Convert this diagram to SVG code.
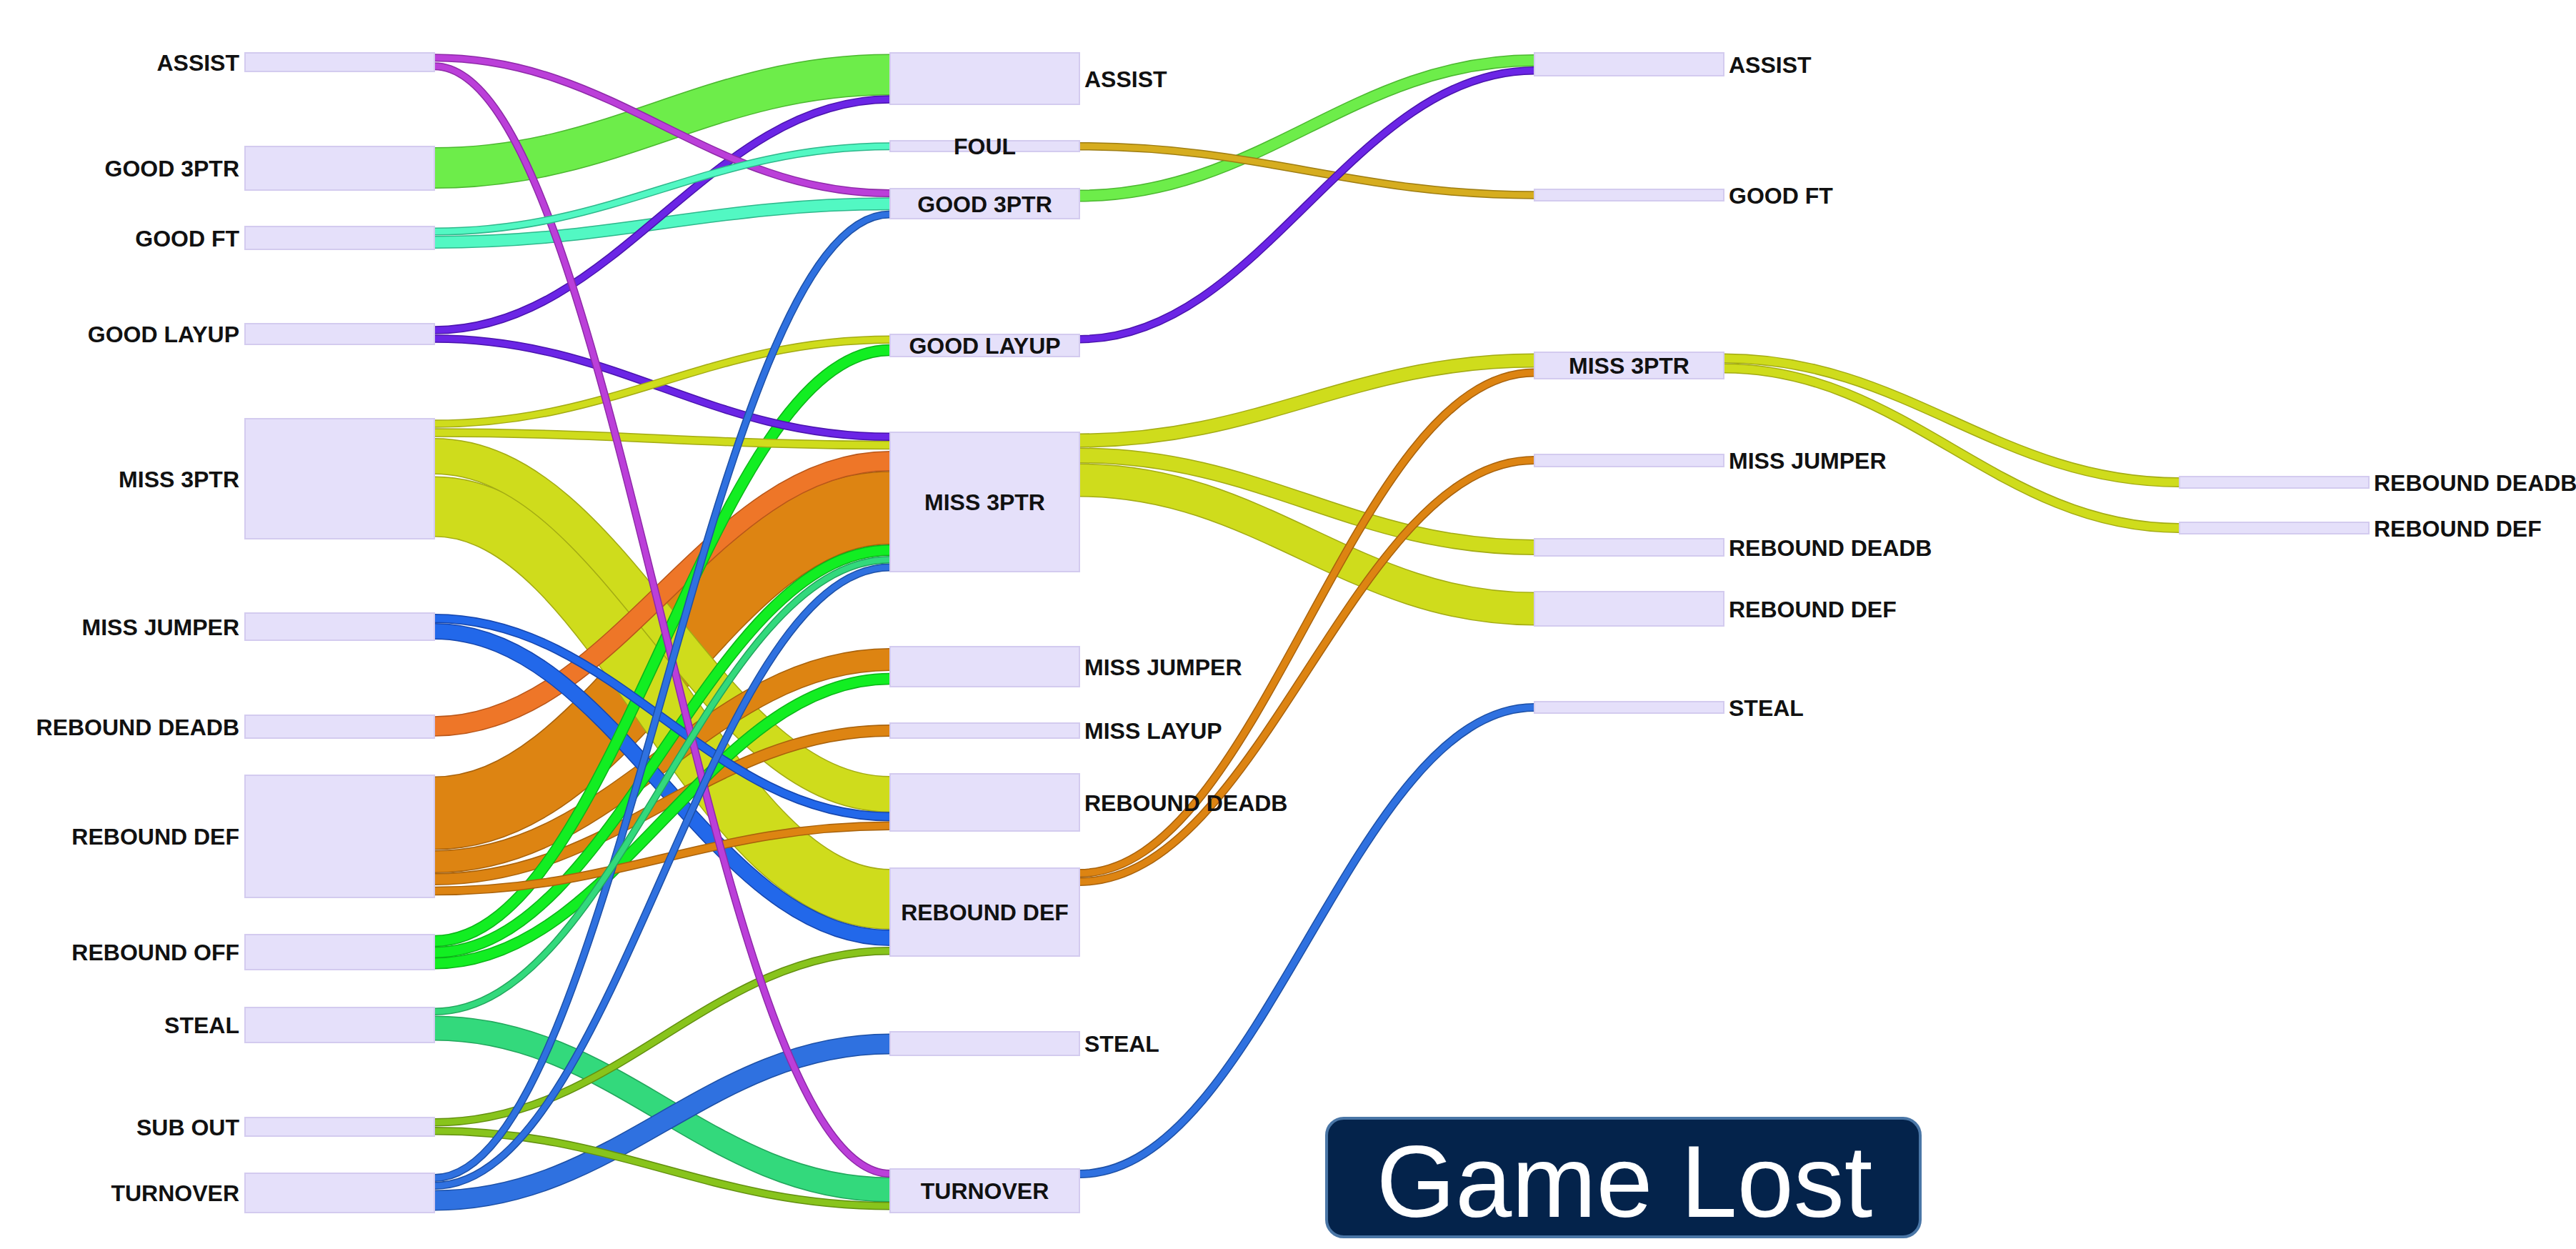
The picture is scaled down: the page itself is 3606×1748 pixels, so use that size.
<svg xmlns="http://www.w3.org/2000/svg" xmlns:xlink="http://www.w3.org/1999/xlink" width="3606" height="1748" viewBox="0 0 3606 1748">
  <style>
    .node rect { fill: #e5e0fa; stroke: #d3cbef; stroke-width: 2; }
    .node text { font-family: "Liberation Sans", Arial, sans-serif; font-weight: bold; font-size: 32px; fill: #111; }
    .l { text-anchor: end; }
    .c { text-anchor: middle; }
    .edge { fill: none; }
    .core { fill: none; }
    .magenta .edge { stroke: #8e2aa8; } .magenta .core { stroke: #bb3fd9; }
    .green3 .edge { stroke: #4cb830; } .green3 .core { stroke: #6ded4a; }
    .aqua .edge { stroke: #2fb88c; } .aqua .core { stroke: #52f8c3; }
    .violet .edge { stroke: #4a14ad; } .violet .core { stroke: #6b25e6; }
    .yellow .edge { stroke: #a3ab14; } .yellow .core { stroke: #cfdc1c; }
    .bluemj .edge { stroke: #1646ad; } .bluemj .core { stroke: #2268ea; }
    .orangerd .edge { stroke: #b8561a; } .orangerd .core { stroke: #ee7628; }
    .orangedef .edge { stroke: #a8620c; } .orangedef .core { stroke: #dd8412; }
    .greenro .edge { stroke: #0cb418; } .greenro .core { stroke: #12ee22; }
    .emerald .edge { stroke: #22a65c; } .emerald .core { stroke: #33d97c; }
    .olive .edge { stroke: #628f10; } .olive .core { stroke: #88c41c; }
    .blueto .edge { stroke: #1d50a6; } .blueto .core { stroke: #2f71e0; }
    .gold .edge { stroke: #9e7d12; } .gold .core { stroke: #d6ad1f; }
    .badge rect { fill: #04234b; stroke: #4a76a6; stroke-width: 4; }
    .badge text { font-family: "Liberation Sans", Arial, sans-serif; font-size: 142px; fill: #ffffff; text-anchor: middle; }
  </style>
  <defs>
    <!-- column 1 to column 2 flows -->
    <path id="p1" d="M608,80.8 C863,80.8 991,270.5 1246,270.5"/>
    <path id="p2" d="M608,92.8 C863,92.8 991,1642.5 1246,1642.5"/>
    <path id="p3" d="M608,235 C863,235 991,104.5 1246,104.5"/>
    <path id="p4" d="M608,324 C863,324 991,204.7 1246,204.7"/>
    <path id="p5" d="M608,339 C863,339 991,285.3 1246,285.3"/>
    <path id="p6" d="M608,462 C863,462 991,139 1246,139"/>
    <path id="p7" d="M608,474 C863,474 991,611.3 1246,611.3"/>
    <path id="p8" d="M608,593 C863,593 991,475.3 1246,475.3"/>
    <path id="p9" d="M608,605.5 C863,605.5 991,623 1246,623"/>
    <path id="p10" d="M608,638.5 C863,638.5 991,1111.5 1246,1111.5"/>
    <path id="p11" d="M608,709 C863,709 991,1258.5 1246,1258.5"/>
    <path id="p12" d="M608,865.5 C863,865.5 991,1143 1246,1143"/>
    <path id="p13" d="M608,883.5 C863,883.5 991,1312.5 1246,1312.5"/>
    <path id="p14" d="M608,1016.5 C863,1016.5 991,645.3 1246,645.3"/>
    <path id="p15" d="M608,1138 C863,1138 991,710.7 1246,710.7"/>
    <path id="p16" d="M608,1206 C863,1206 991,923 1246,923"/>
    <path id="p17" d="M608,1230.5 C863,1230.5 991,1022.5 1246,1022.5"/>
    <path id="p18" d="M608,1247 C863,1247 991,1155.7 1246,1155.7"/>
    <path id="p19" d="M608,1317 C863,1317 991,490 1246,490"/>
    <path id="p20" d="M608,1333 C863,1333 991,770 1246,770"/>
    <path id="p21" d="M608,1348.3 C863,1348.3 991,950 1246,950"/>
    <path id="p22" d="M608,1415.7 C863,1415.7 991,783.3 1246,783.3"/>
    <path id="p23" d="M608,1439 C863,1439 991,1665 1246,1665"/>
    <path id="p24" d="M608,1570.8 C863,1570.8 991,1330.8 1246,1330.8"/>
    <path id="p25" d="M608,1582.8 C863,1582.8 991,1687.8 1246,1687.8"/>
    <path id="p26" d="M608,1648.5 C863,1648.5 991,300 1246,300"/>
    <path id="p27" d="M608,1659.5 C863,1659.5 991,794 1246,794"/>
    <path id="p28" d="M608,1680 C863,1680 991,1461 1246,1461"/>
    <!-- column 2 to column 3 flows -->
    <path id="q29" d="M1511,204.7 C1766,204.7 1893,273 2148,273"/>
    <path id="q30" d="M1511,274 C1766,274 1893,84.5 2148,84.5"/>
    <path id="q31" d="M1511,474.7 C1766,474.7 1893,98.7 2148,98.7"/>
    <path id="q32" d="M1511,616.5 C1766,616.5 1893,504.5 2148,504.5"/>
    <path id="q33" d="M1511,637.5 C1766,637.5 1893,766 2148,766"/>
    <path id="q34" d="M1511,672 C1766,672 1893,852 2148,852"/>
    <path id="q35" d="M1511,1222 C1766,1222 1893,521.5 2148,521.5"/>
    <path id="q36" d="M1511,1234 C1766,1234 1893,644 2148,644"/>
    <path id="q37" d="M1511,1643 C1766,1643 1893,990 2148,990"/>
    <!-- column 3 to column 4 flows -->
    <path id="r38" d="M2413,501.5 C2668,501.5 2796,675 3051,675"/>
    <path id="r39" d="M2413,515.5 C2668,515.5 2796,739 3051,739"/>
  </defs>

  <rect width="3606" height="1748" fill="#ffffff"/>

  <!-- flows, widest drawn first -->
  <g id="connectors">
    <g id="link-rebdef-miss3ptr" class="orangedef"><use href="#p15" class="edge" stroke-width="103"/><use href="#p15" class="core" stroke-width="100"/></g>
    <g id="link-miss3ptr-rebdef" class="yellow"><use href="#p11" class="edge" stroke-width="85"/><use href="#p11" class="core" stroke-width="82"/></g>
    <g id="link-good3ptr-assist" class="green3"><use href="#p3" class="edge" stroke-width="58"/><use href="#p3" class="core" stroke-width="55"/></g>
    <g id="link-miss3ptr-rebdeadb" class="yellow"><use href="#p10" class="edge" stroke-width="51"/><use href="#p10" class="core" stroke-width="48"/></g>
    <g id="link-m-miss3ptr-rebdef" class="yellow"><use href="#q34" class="edge" stroke-width="47"/><use href="#q34" class="core" stroke-width="44"/></g>
    <g id="link-steal-turnover" class="emerald"><use href="#p23" class="edge" stroke-width="35"/><use href="#p23" class="core" stroke-width="32"/></g>
    <g id="link-rebdef-missjumper" class="orangedef"><use href="#p16" class="edge" stroke-width="32"/><use href="#p16" class="core" stroke-width="29"/></g>
    <g id="link-turnover-steal" class="blueto"><use href="#p28" class="edge" stroke-width="29"/><use href="#p28" class="core" stroke-width="26"/></g>
    <g id="link-rebdeadb-miss3ptr" class="orangerd"><use href="#p14" class="edge" stroke-width="28.5"/><use href="#p14" class="core" stroke-width="25.5"/></g>
    <g id="link-missjumper-rebdef" class="bluemj"><use href="#p13" class="edge" stroke-width="23"/><use href="#p13" class="core" stroke-width="20"/></g>
    <g id="link-m-miss3ptr-rebdeadb" class="yellow"><use href="#q33" class="edge" stroke-width="22"/><use href="#q33" class="core" stroke-width="19"/></g>
    <g id="link-m-miss3ptr-miss3ptr" class="yellow"><use href="#q32" class="edge" stroke-width="20"/><use href="#q32" class="core" stroke-width="17"/></g>
    <g id="link-goodft-good3ptr" class="aqua"><use href="#p5" class="edge" stroke-width="18"/><use href="#p5" class="core" stroke-width="15"/></g>
    <g id="link-rebdef-misslayup" class="orangedef"><use href="#p17" class="edge" stroke-width="17"/><use href="#p17" class="core" stroke-width="14"/></g>
    <g id="link-m-good3ptr-assist" class="green3"><use href="#q30" class="edge" stroke-width="17"/><use href="#q30" class="core" stroke-width="14"/></g>
    <g id="link-reboff-goodlayup" class="greenro"><use href="#p19" class="edge" stroke-width="16.5"/><use href="#p19" class="core" stroke-width="13.5"/></g>
    <g id="link-reboff-missjumper" class="greenro"><use href="#p21" class="edge" stroke-width="16.5"/><use href="#p21" class="core" stroke-width="13.5"/></g>
    <g id="link-reboff-miss3ptr" class="greenro"><use href="#p20" class="edge" stroke-width="16"/><use href="#p20" class="core" stroke-width="13"/></g>
    <g id="link-3-miss3ptr-rebdeadb" class="yellow"><use href="#r38" class="edge" stroke-width="14"/><use href="#r38" class="core" stroke-width="11"/></g>
    <g id="link-3-miss3ptr-rebdef" class="yellow"><use href="#r39" class="edge" stroke-width="14"/><use href="#r39" class="core" stroke-width="11"/></g>
    <g id="link-missjumper-rebdeadb" class="bluemj"><use href="#p12" class="edge" stroke-width="13"/><use href="#p12" class="core" stroke-width="10"/></g>
    <g id="link-miss3ptr-miss3ptr" class="yellow"><use href="#p9" class="edge" stroke-width="12.5"/><use href="#p9" class="core" stroke-width="9.5"/></g>
    <g id="link-rebdef-rebdeadb" class="orangedef"><use href="#p18" class="edge" stroke-width="12.5"/><use href="#p18" class="core" stroke-width="9.5"/></g>
    <g id="link-m-rebdef-miss3ptr" class="orangedef"><use href="#q35" class="edge" stroke-width="12"/><use href="#q35" class="core" stroke-width="9"/></g>
    <g id="link-m-rebdef-missjumper" class="orangedef"><use href="#q36" class="edge" stroke-width="12"/><use href="#q36" class="core" stroke-width="9"/></g>
    <g id="link-m-turnover-steal" class="blueto"><use href="#q37" class="edge" stroke-width="12"/><use href="#q37" class="core" stroke-width="9"/></g>
    <g id="link-goodlayup-assist" class="violet"><use href="#p6" class="edge" stroke-width="11.5"/><use href="#p6" class="core" stroke-width="8.5"/></g>
    <g id="link-goodlayup-miss3ptr" class="violet"><use href="#p7" class="edge" stroke-width="11.5"/><use href="#p7" class="core" stroke-width="8.5"/></g>
    <g id="link-miss3ptr-goodlayup" class="yellow"><use href="#p8" class="edge" stroke-width="11.5"/><use href="#p8" class="core" stroke-width="8.5"/></g>
    <g id="link-subout-rebdef" class="olive"><use href="#p24" class="edge" stroke-width="11.5"/><use href="#p24" class="core" stroke-width="8.5"/></g>
    <g id="link-subout-turnover" class="olive"><use href="#p25" class="edge" stroke-width="11.5"/><use href="#p25" class="core" stroke-width="8.5"/></g>
    <g id="link-m-foul-goodft" class="gold"><use href="#q29" class="edge" stroke-width="11.5"/><use href="#q29" class="core" stroke-width="8.5"/></g>
    <g id="link-m-goodlayup-assist" class="violet"><use href="#q31" class="edge" stroke-width="11.5"/><use href="#q31" class="core" stroke-width="8.5"/></g>
    <g id="link-assist-good3ptr" class="magenta"><use href="#p1" class="edge" stroke-width="11"/><use href="#p1" class="core" stroke-width="8"/></g>
    <g id="link-assist-turnover" class="magenta"><use href="#p2" class="edge" stroke-width="11"/><use href="#p2" class="core" stroke-width="8"/></g>
    <g id="link-goodft-foul" class="aqua"><use href="#p4" class="edge" stroke-width="11"/><use href="#p4" class="core" stroke-width="8"/></g>
    <g id="link-turnover-good3ptr" class="blueto"><use href="#p26" class="edge" stroke-width="11"/><use href="#p26" class="core" stroke-width="8"/></g>
    <g id="link-turnover-miss3ptr" class="blueto"><use href="#p27" class="edge" stroke-width="11"/><use href="#p27" class="core" stroke-width="8"/></g>
    <g id="link-steal-miss3ptr" class="emerald"><use href="#p22" class="edge" stroke-width="10.5"/><use href="#p22" class="core" stroke-width="7.5"/></g>
  </g>

  <!-- column 1 -->
  <g id="n-c1-assist" class="node"><rect x="343" y="74" width="265" height="26"/><text class="l" x="335" y="98.5">ASSIST</text></g>
  <g id="n-c1-good3ptr" class="node"><rect x="343" y="205" width="265" height="61"/><text class="l" x="335" y="247">GOOD 3PTR</text></g>
  <g id="n-c1-goodft" class="node"><rect x="343" y="317" width="265" height="32"/><text class="l" x="335" y="344.5">GOOD FT</text></g>
  <g id="n-c1-goodlayup" class="node"><rect x="343" y="453" width="265" height="29"/><text class="l" x="335" y="479">GOOD LAYUP</text></g>
  <g id="n-c1-miss3ptr" class="node"><rect x="343" y="586" width="265" height="168"/><text class="l" x="335" y="681.5">MISS 3PTR</text></g>
  <g id="n-c1-missjumper" class="node"><rect x="343" y="858" width="265" height="38"/><text class="l" x="335" y="888.5">MISS JUMPER</text></g>
  <g id="n-c1-rebdeadb" class="node"><rect x="343" y="1001" width="265" height="32"/><text class="l" x="335" y="1028.5">REBOUND DEADB</text></g>
  <g id="n-c1-rebdef" class="node"><rect x="343" y="1085" width="265" height="171"/><text class="l" x="335" y="1182">REBOUND DEF</text></g>
  <g id="n-c1-reboff" class="node"><rect x="343" y="1308" width="265" height="49"/><text class="l" x="335" y="1344">REBOUND OFF</text></g>
  <g id="n-c1-steal" class="node"><rect x="343" y="1410" width="265" height="49"/><text class="l" x="335" y="1446">STEAL</text></g>
  <g id="n-c1-subout" class="node"><rect x="343" y="1564" width="265" height="26"/><text class="l" x="335" y="1588.5">SUB OUT</text></g>
  <g id="n-c1-turnover" class="node"><rect x="343" y="1642" width="265" height="55"/><text class="l" x="335" y="1681">TURNOVER</text></g>

  <!-- column 2 -->
  <g id="n-c2-assist" class="node"><rect x="1246" y="74" width="265" height="72"/><text x="1518" y="121.5">ASSIST</text></g>
  <g id="n-c2-foul" class="node"><rect x="1246" y="197" width="265" height="15"/><text class="c" x="1378.5" y="216">FOUL</text></g>
  <g id="n-c2-good3ptr" class="node"><rect x="1246" y="264" width="265" height="42"/><text class="c" x="1378.5" y="296.5">GOOD 3PTR</text></g>
  <g id="n-c2-goodlayup" class="node"><rect x="1246" y="468" width="265" height="31"/><text class="c" x="1378.5" y="495">GOOD LAYUP</text></g>
  <g id="n-c2-miss3ptr" class="node"><rect x="1246" y="605" width="265" height="195"/><text class="c" x="1378.5" y="714">MISS 3PTR</text></g>
  <g id="n-c2-missjumper" class="node"><rect x="1246" y="905" width="265" height="56"/><text x="1518" y="944.5">MISS JUMPER</text></g>
  <g id="n-c2-misslayup" class="node"><rect x="1246" y="1012" width="265" height="21"/><text x="1518" y="1034">MISS LAYUP</text></g>
  <g id="n-c2-rebdeadb" class="node"><rect x="1246" y="1083" width="265" height="80"/><text x="1518" y="1134.5">REBOUND DEADB</text></g>
  <g id="n-c2-rebdef" class="node"><rect x="1246" y="1215" width="265" height="123"/><text class="c" x="1378.5" y="1288">REBOUND DEF</text></g>
  <g id="n-c2-steal" class="node"><rect x="1246" y="1444" width="265" height="33"/><text x="1518" y="1472">STEAL</text></g>
  <g id="n-c2-turnover" class="node"><rect x="1246" y="1636" width="265" height="61"/><text class="c" x="1378.5" y="1678">TURNOVER</text></g>

  <!-- column 3 -->
  <g id="n-c3-assist" class="node"><rect x="2148" y="74" width="265" height="32"/><text x="2420" y="101.5">ASSIST</text></g>
  <g id="n-c3-goodft" class="node"><rect x="2148" y="265" width="265" height="16"/><text x="2420" y="284.5">GOOD FT</text></g>
  <g id="n-c3-miss3ptr" class="node"><rect x="2148" y="493" width="265" height="37"/><text class="c" x="2280.5" y="523">MISS 3PTR</text></g>
  <g id="n-c3-missjumper" class="node"><rect x="2148" y="636" width="265" height="17"/><text x="2420" y="656">MISS JUMPER</text></g>
  <g id="n-c3-rebdeadb" class="node"><rect x="2148" y="754" width="265" height="24"/><text x="2420" y="777.5">REBOUND DEADB</text></g>
  <g id="n-c3-rebdef" class="node"><rect x="2148" y="828" width="265" height="48"/><text x="2420" y="863.5">REBOUND DEF</text></g>
  <g id="n-c3-steal" class="node"><rect x="2148" y="982" width="265" height="16"/><text x="2420" y="1001.5">STEAL</text></g>

  <!-- column 4 -->
  <g id="n-c4-rebdeadb" class="node"><rect x="3051" y="667" width="265" height="16"/><text x="3323" y="686.5">REBOUND DEADB</text></g>
  <g id="n-c4-rebdef" class="node"><rect x="3051" y="731" width="265" height="16"/><text x="3323" y="750.5">REBOUND DEF</text></g>

  <!-- outcome badge -->
  <g id="badge" class="badge">
    <rect x="1857" y="1565" width="831" height="166" rx="24" ry="24"/>
    <text x="2274" y="1703">Game Lost</text>
  </g>
</svg>
